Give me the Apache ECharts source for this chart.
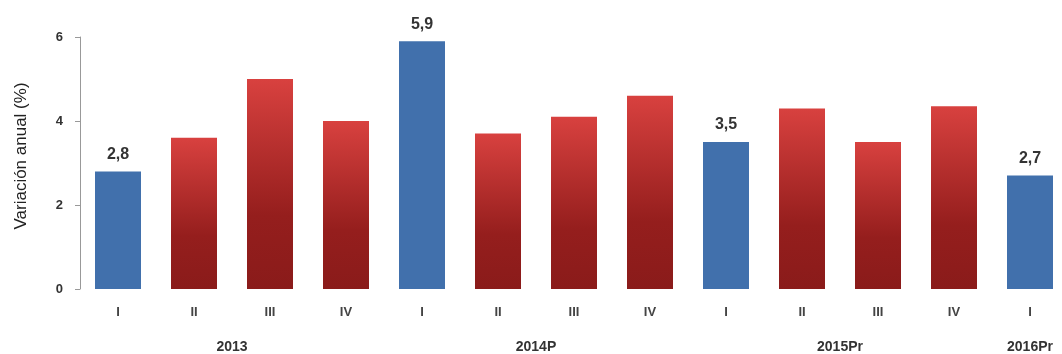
<!DOCTYPE html>
<html>
<head>
<meta charset="utf-8">
<script src="https://cdn.jsdelivr.net/npm/echarts@6/dist/echarts.min.js"></script>
<style>
html,body{margin:0;padding:0;background:#fff;}
#c{width:1062px;height:354px;}
</style>
</head>
<body>
<div id="c"></div>
<script>
var quarters = ['I','II','III','IV','I','II','III','IV','I','II','III','IV','I'];
var years = ['2013','2013','2013','2013','2014P','2014P','2014P','2014P','2015Pr','2015Pr','2015Pr','2015Pr','2016Pr'];
var values = [2.8, 3.6, 5.0, 4.0, 5.9, 3.7, 4.1, 4.6, 3.5, 4.3, 3.5, 4.35, 2.7];
var yTicks = [0, 2, 4, 6];

// year label positions = centre of each year's group of bars (category index)
var yearCentres = {};
(function(){
  var first = {}, last = {};
  years.forEach(function(y, i){ if (!(y in first)) first[y] = i; last[y] = i; });
  Object.keys(first).forEach(function(y){ yearCentres[(first[y] + last[y]) / 2] = y; });
})();

var redGrad = new echarts.graphic.LinearGradient(0,0,0,1,[
  {offset:0, color:'#d8413f'},
  {offset:0.65, color:'#951e1d'},
  {offset:1, color:'#8a1b1a'}
]);
var blue = '#4170ac';

var seriesData = values.map(function(v, i){
  var isFirst = quarters[i] === 'I';
  return {
    value: v,
    itemStyle: { color: isFirst ? blue : redGrad },
    label: {
      show: isFirst,
      position: 'top',
      distance: 9,
      formatter: function(p){ return String(p.value).replace('.', ','); },
      fontFamily: 'Liberation Sans, Arial, sans-serif',
      fontWeight: 'bold',
      fontSize: 16,
      color: '#333'
    }
  };
});

var chart = echarts.init(document.getElementById('c'), null, {renderer:'canvas'});
chart.setOption({
  animation: false,
  grid: { left: 80, top: 37, bottom: 65, width: 988, containLabel: false, outerBoundsMode: 'none' },
  xAxis: [
    {
      type: 'category',
      data: quarters,
      axisLine: { show: false },
      axisTick: { show: false },
      axisLabel: {
        margin: 17,
        fontFamily: 'Liberation Sans, Arial, sans-serif',
        fontWeight: 'bold',
        fontSize: 13,
        color: '#444'
      }
    },
    {
      type: 'value',
      position: 'bottom',
      offset: 35,
      min: -0.5,
      max: 12.5,
      interval: 0.5,
      axisLine: { show: false },
      axisTick: { show: false },
      splitLine: { show: false },
      axisLabel: {
        margin: 16,
        showMinLabel: true,
        showMaxLabel: true,
        fontFamily: 'Liberation Sans, Arial, sans-serif',
        fontWeight: 'bold',
        fontSize: 14,
        color: '#333',
        formatter: function(v){ return yearCentres[v] || ''; }
      }
    }
  ],
  yAxis: {
    type: 'value',
    min: yTicks[0],
    max: yTicks[yTicks.length - 1],
    interval: 2,
    name: 'Variación anual (%)',
    nameLocation: 'middle',
    nameGap: 50,
    nameRotate: 90,
    nameTextStyle: {
      fontFamily: 'Liberation Sans, Arial, sans-serif',
      fontSize: 17,
      color: '#222',
      padding: [0, 0, 0, 14]
    },
    axisLine: { show: true, onZero: false, lineStyle: { color: '#999', width: 1 } },
    axisTick: { show: true, length: 5, lineStyle: { color: '#999' } },
    splitLine: { show: false },
    axisLabel: {
      margin: 17,
      fontFamily: 'Liberation Sans, Arial, sans-serif',
      fontWeight: 'bold',
      fontSize: 13,
      color: '#333'
    }
  },
  series: [{
    type: 'bar',
    xAxisIndex: 0,
    barWidth: 46,
    data: seriesData
  }]
});
</script>
</body>
</html>
